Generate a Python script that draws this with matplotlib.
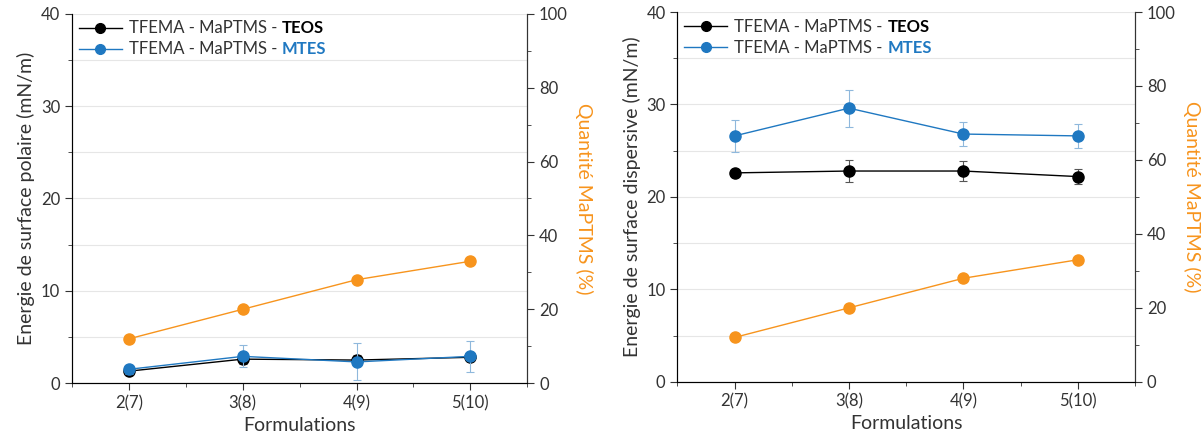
import numpy as np
import matplotlib.pyplot as plt
from matplotlib.lines import Line2D
from matplotlib.ticker import MultipleLocator

plt.rcParams['font.family'] = ['Lato', 'DejaVu Sans']

formulations = ['2(7)', '3(8)', '4(9)', '5(10)']
maptms_pct = [12, 20, 28, 33]

# polar component (left panel)
polar_teos = [1.3, 2.6, 2.5, 2.8]
polar_teos_err = [0.3, 0.5, 0.5, 0.4]
polar_mtes = [1.5, 2.9, 2.3, 2.9]
polar_mtes_err = [0.5, 1.2, 2.0, 1.7]

# dispersive component (right panel)
disp_teos = [22.6, 22.8, 22.8, 22.2]
disp_teos_err = [0.0, 1.2, 1.1, 0.8]
disp_mtes = [26.6, 29.6, 26.8, 26.6]
disp_mtes_err = [1.7, 2.0, 1.3, 1.3]

BLACK = '#000000'
BLUE = '#1f78c1'
ORANGE = '#f7941d'
SPINE = '#333333'

fig = plt.figure(figsize=(12.01, 4.45), dpi=100)
x = np.arange(1, len(formulations) + 1)


def panel(rect, teos, teos_err, mtes, mtes_err, ylabel):
    ax = fig.add_axes(rect)
    ax.errorbar(x, teos, yerr=teos_err, color=BLACK, marker='o', ms=8, lw=1,
                ecolor='#555555', elinewidth=0.8, capsize=3, capthick=0.8,
                zorder=4)
    ax.errorbar(x, mtes, yerr=mtes_err, color=BLUE, marker='o', ms=8, lw=1,
                ecolor='#8fb8dc', elinewidth=0.8, capsize=3, capthick=0.8,
                zorder=5)
    ax.set_xlim(0.5, 4.5)
    ax.set_ylim(0, 40)
    ax.set_xticks(x)
    ax.set_xticklabels(formulations)
    ax.xaxis.set_minor_locator(MultipleLocator(0.5))
    ax.yaxis.set_major_locator(MultipleLocator(10))
    ax.yaxis.set_minor_locator(MultipleLocator(5))
    ax.grid(axis='y', which='both', color='#e6e6e6', lw=0.8)
    ax.set_axisbelow(True)
    ax.set_xlabel('Formulations', fontsize=14, color='#333333')
    ax.set_ylabel(ylabel, fontsize=14, color='#333333')
    ax.tick_params(which='major', direction='out', length=5, labelsize=12,
                   colors=SPINE, labelcolor='#333333')
    ax.tick_params(which='minor', direction='out', length=3, colors=SPINE)
    ax.spines['top'].set_visible(False)
    for s in ('left', 'bottom', 'right'):
        ax.spines[s].set_color(SPINE)

    ax2 = ax.twinx()
    ax2.plot(x, maptms_pct, color=ORANGE, marker='o', ms=8, lw=1, zorder=3)
    ax2.set_ylim(0, 100)
    ax2.yaxis.set_major_locator(MultipleLocator(20))
    ax2.yaxis.set_minor_locator(MultipleLocator(10))
    ax2.set_ylabel('Quantité MaPTMS (%)', fontsize=14, color=ORANGE,
                   rotation=270, labelpad=18)
    ax2.tick_params(which='major', direction='out', length=5, labelsize=12,
                    colors=SPINE, labelcolor='#333333')
    ax2.tick_params(which='minor', direction='out', length=3, colors=SPINE)
    ax2.spines['top'].set_visible(False)
    ax2.spines['right'].set_color(SPINE)

    handles = [Line2D([], [], color=BLACK, marker='o', ms=7, lw=1),
               Line2D([], [], color=BLUE, marker='o', ms=7, lw=1)]
    leg = ax2.legend(handles, ['TFEMA - MaPTMS -', 'TFEMA - MaPTMS -'],
                     loc='upper left', frameon=False, fontsize=12,
                     handlelength=2.6, handletextpad=0.4, labelspacing=0.3,
                     borderaxespad=0.1, borderpad=0.3, labelcolor='#333333')
    fig.canvas.draw()
    for t, word, col in zip(leg.get_texts(), ['TEOS', 'MTES'], [BLACK, BLUE]):
        ax2.annotate(word, xy=(1, 0), xycoords=t, xytext=(3.5, 0),
                     textcoords='offset points', fontsize=12,
                     fontweight='bold', color=col, va='bottom', ha='left')
    return ax


panel([0.060, 0.139, 0.379, 0.830], polar_teos, polar_teos_err,
      polar_mtes, polar_mtes_err, 'Energie de surface polaire (mN/m)')
panel([0.564, 0.142, 0.381, 0.831], disp_teos, disp_teos_err,
      disp_mtes, disp_mtes_err, 'Energie de surface dispersive (mN/m)')

fig.savefig('out.png', dpi=100)
